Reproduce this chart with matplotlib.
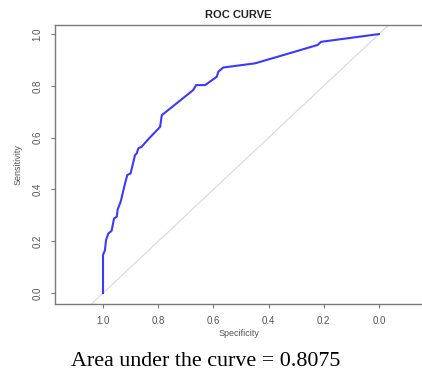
import matplotlib
matplotlib.use("Agg")
import matplotlib.pyplot as plt

# ROC curve points
specificity = [1.0, 1.0, 0.993, 0.989, 0.981, 0.969, 0.96, 0.95, 0.947, 0.936,
               0.92, 0.912, 0.9, 0.884, 0.878, 0.872, 0.86, 0.836, 0.793, 0.787,
               0.673, 0.663, 0.63, 0.588, 0.582, 0.564, 0.449, 0.359, 0.222,
               0.21, 0.0]
sensitivity = [0.0, 0.147, 0.166, 0.205, 0.23, 0.24, 0.288, 0.295, 0.323, 0.353,
               0.424, 0.456, 0.462, 0.533, 0.539, 0.559, 0.565, 0.594, 0.642, 0.687,
               0.784, 0.803, 0.803, 0.835, 0.855, 0.871, 0.887, 0.915, 0.958,
               0.97, 1.0]
ticks = [1.0, 0.8, 0.6, 0.4, 0.2, 0.0]
auc = 0.8075

plt.rcParams["font.family"] = ["Liberation Sans", "DejaVu Sans"]

fig = plt.figure(figsize=(4.22, 3.76), dpi=100)
# axes box: left 55px, top 25px, bottom 304px, runs off the right edge
ax = fig.add_axes([55 / 422, (376 - 304) / 376, (422 - 55) / 422, (304 - 25) / 376])

# reference diagonal (clipped to the plot region like R's abline)
ax.plot([1.3, -0.3], [-0.3, 1.3], color="#dcdcdc", lw=0.9)
ax.plot(specificity, sensitivity, color="#3a3aff", lw=1.5)

ax.set_xlim(1.174, -0.156)
ax.set_ylim(-0.042, 1.035)

ax.set_xticks(ticks)
ax.set_xticklabels(["%.1f" % t for t in ticks])
ax.set_yticks(ticks)
ax.set_yticklabels(["%.1f" % t for t in ticks], rotation=90, va="center")
ax.tick_params(colors="#777777", labelcolor="#555555", labelsize=7,
               length=3, width=0.8, pad=6)

for side in ["left", "top", "bottom"]:
    ax.spines[side].set_color("#7a7a7a")
    ax.spines[side].set_linewidth(1.0)
ax.spines["right"].set_visible(False)

ax.set_title("ROC CURVE", fontsize=8, fontweight="bold", color="#222222", pad=5)
ax.set_ylabel("Sensitivity", fontsize=6.5, color="#555555", labelpad=7)
ax.set_xlabel("Specificity", fontsize=6.5, color="#555555", labelpad=2)

fig.text(206 / 422, 1 - 361 / 376, "Area under the curve = " + str(auc),
         family="Liberation Serif", fontsize=15.8, ha="center", va="center",
         color="black")

fig.savefig("out.png", dpi=100)
